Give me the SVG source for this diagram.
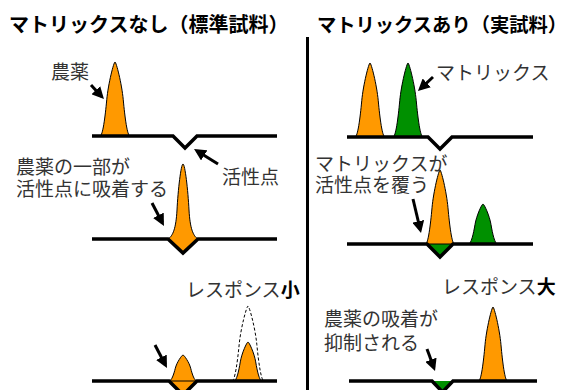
<svg xmlns="http://www.w3.org/2000/svg" xmlns:xlink="http://www.w3.org/1999/xlink" width="571" height="390" viewBox="0 0 571 390">
<style>
.title{font-family:"Noto Sans CJK JP","Noto Sans",sans-serif;font-size:20px;font-weight:bold;fill:#000}
.lbl{font-family:"Noto Sans CJK JP","Noto Sans",sans-serif;font-size:19px;fill:#333}
.b{font-weight:bold;fill:#000}
.base{fill:none;stroke:#000;stroke-width:3.5;stroke-linejoin:miter}
.or{fill:#FF9900;stroke:#000;stroke-width:1}
.gr{fill:#009000;stroke:#000;stroke-width:1}
.dash{fill:none;stroke:#000;stroke-width:1;stroke-dasharray:3 2}
.arr{stroke:#000;stroke-width:3;fill:none;marker-end:url(#ah)}
</style>
<defs>
<path id="pk" vector-effect="non-scaling-stroke" d="M-1,0 C-0.82,0 -0.66,-0.25 -0.55,-0.49 C-0.45,-0.71 -0.08,-1 0,-1 C0.08,-1 0.45,-0.71 0.55,-0.49 C0.66,-0.25 0.82,0 1,0 Z"/>
<marker id="ah" viewBox="0 0 10 10" markerWidth="4" markerHeight="4" refX="7" refY="5" orient="auto" markerUnits="strokeWidth">
<path d="M0,0 L10,5 L0,10 Z" fill="#000"/>
</marker>
</defs>

<g id="titles">
<text class="title" x="9" y="32">マトリックスなし（標準試料）</text>
<text class="title" x="317" y="32" style="font-size:19.3px">マトリックスあり（実試料）</text>
</g>

<line id="divider" x1="307.5" y1="37" x2="307.5" y2="390" stroke="#000" stroke-width="3"/>

<g id="left-top">
<use xlink:href="#pk" class="or" transform="translate(115,136) scale(15,74)"/>
<path class="base" d="M92,136 H173 L185,148 L197,136 H277"/>
<text class="lbl" x="51" y="78.5">農薬</text>
<text class="lbl" x="222" y="183.5">活性点</text>
</g>

<g id="left-mid">
<path class="or" d="M168,239 C173,236 176,228 177,210 C178,190 181,164 183,164 C185,164 188,190 189,210 C190,228 193,236 198,239 L183,253 Z"/>
<path class="base" d="M92,239 H168 L183,253 L198,239 H277"/>
<text class="lbl" x="16" y="173.5">農薬の一部が</text>
<text class="lbl" x="16" y="196">活性点に吸着する</text>
</g>

<g id="left-bottom">
<polygon points="169,381 183,395 197,381" fill="#FF9900"/>
<use xlink:href="#pk" class="or" transform="translate(183,381) scale(14,26)"/>
<use xlink:href="#pk" class="or" transform="translate(248,381) scale(14,39)"/>
<path class="dash" d="M232,381 C234.88,381 237.44,362.25 239.2,344.25 C240.8,327.75 246.72,306 248,306 C249.28,306 255.2,327.75 256.8,344.25 C258.56,362.25 261.12,381 264,381"/>
<path class="base" d="M92,381 H169 L183,395 L197,381 H277"/>
<text class="lbl" x="186" y="297">レスポンス<tspan class="b">小</tspan></text>
</g>

<g id="right-top">
<use xlink:href="#pk" class="or" transform="translate(370,137) scale(15,74)"/>
<use xlink:href="#pk" class="gr" transform="translate(408,137) scale(15,74)"/>
<path class="base" d="M347,137 H428 L440,149 L452,137 H533"/>
<text class="lbl" x="436" y="80">マトリックス</text>
</g>

<g id="right-mid">
<polygon points="427,244 440,257 453,244" fill="#009000"/>
<use xlink:href="#pk" class="or" transform="translate(440,244) scale(14.5,74)"/>
<use xlink:href="#pk" class="gr" transform="translate(483,244) scale(14.5,40)"/>
<path class="base" d="M347,244 H427 L440,257 L453,244 H533"/>
<text class="lbl" x="315" y="170.5">マトリックスが</text>
<text class="lbl" x="315" y="191.5">活性点を覆う</text>
</g>

<g id="right-bottom">
<polygon points="432,381 442.5,392 453,381" fill="#009000"/>
<use xlink:href="#pk" class="or" transform="translate(493,381) scale(14.5,74)"/>
<path class="base" d="M349,381 H432 L442.5,392 L453,381 H537"/>
<text class="lbl" x="442" y="294">レスポンス<tspan class="b">大</tspan></text>
<text class="lbl" x="324" y="325.5">農薬の吸着が</text>
<text class="lbl" x="324" y="350">抑制される</text>
</g>

<g id="connectors">
<line class="arr" x1="91" y1="85" x2="101.5" y2="96.4"/>
<line class="arr" x1="218" y1="164" x2="197.1" y2="150.9"/>
<line class="arr" x1="152" y1="203" x2="162.3" y2="222.8"/>
<line class="arr" x1="155" y1="345" x2="165.3" y2="364.8"/>
<line class="arr" x1="433" y1="77" x2="420.6" y2="88.6"/>
<line class="arr" x1="413" y1="199" x2="420.2" y2="229.5"/>
<line class="arr" x1="427" y1="349" x2="433.8" y2="367.6"/>
</g>
</svg>
